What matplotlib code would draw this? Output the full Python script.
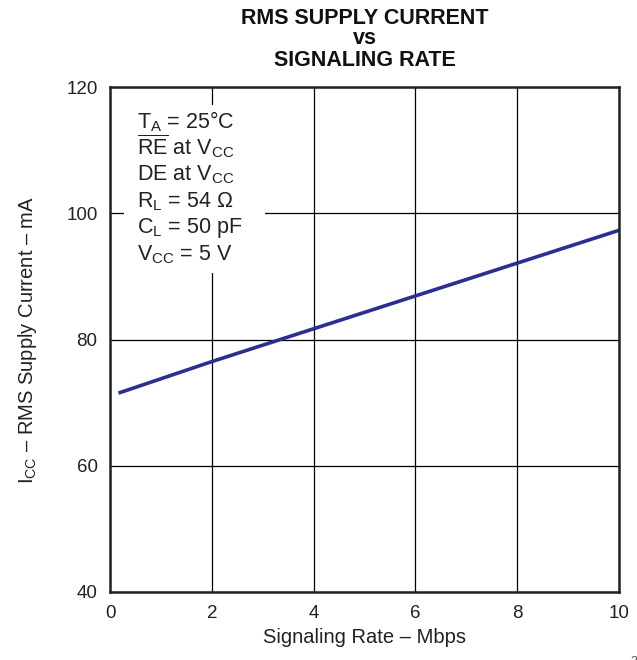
import matplotlib.pyplot as plt
from matplotlib.patches import Rectangle

plt.rcParams['font.family'] = ['Liberation Sans', 'DejaVu Sans']
plt.rcParams['mathtext.fontset'] = 'custom'
plt.rcParams['mathtext.rm'] = 'Liberation Sans'

rate = [0.2, 2, 4, 6, 8, 10]
icc = [71.6, 76.5, 81.7, 86.9, 92.1, 97.3]
xticks = [0, 2, 4, 6, 8, 10]
yticks = [40, 60, 80, 100, 120]
info_lines = ['T$_{\\mathrm{A}}$ = 25\u00b0C',
              '$\\overline{\\mathrm{RE}}$ at V$_{\\mathrm{CC}}$',
              'DE at V$_{\\mathrm{CC}}$',
              'R$_{\\mathrm{L}}$ = 54 \u03a9',
              'C$_{\\mathrm{L}}$ = 50 pF',
              'V$_{\\mathrm{CC}}$ = 5 V']
title_lines = ['RMS SUPPLY CURRENT', 'vs', 'SIGNALING RATE']

W, H = 637, 660
fig = plt.figure(figsize=(W/100, H/100), dpi=100)
ax = fig.add_axes([110/W, 1-592/H, 509/W, 505/H])

ax.plot(rate, icc, color='#2b2f8f', lw=2.6, zorder=3)

ax.set_xlim(0, 10)
ax.set_ylim(40, 120)
ax.set_xticks(xticks)
ax.set_yticks(yticks)
ax.grid(color='black', lw=0.9, zorder=1)
ax.tick_params(length=0, labelsize=13.5, pad=9, colors='#222222')
for s in ax.spines.values():
    s.set_linewidth(1.8)
    s.set_color('#222222')
    s.set_zorder(5)

ax.set_xlabel('Signaling Rate \u2013 Mbps', fontsize=14.5, color='#222222')
ax.xaxis.set_label_coords(0.5, -0.072)
ax.set_ylabel('I$_{\\mathrm{CC}}$ \u2013 RMS Supply Current \u2013 mA', fontsize=14.5,
              color='#222222')
ax.yaxis.set_label_coords(-0.14, 0.5)

# title, one line at a time (baselines in pixels from top)
for txt, base in zip(title_lines, [24, 44, 66]):
    fig.text(364.5/W, 1-base/H, txt, fontsize=15.5, fontweight='bold',
             ha='center', va='baseline', color='#111111')

# white box behind the conditions text, hides the grid
px = lambda p: (p-110)/509
py = lambda p: (592-p)/505
ax.add_patch(Rectangle((px(124), py(273)), px(265)-px(124), py(105)-py(273),
                       transform=ax.transAxes, facecolor='white',
                       edgecolor='none', zorder=2))
for txt, base in zip(info_lines, [128, 154, 180, 207, 233.5, 260]):
    ax.text(px(137), py(base), txt, transform=ax.transAxes, fontsize=15.5,
            ha='left', va='baseline', color='#222222', zorder=4)

fig.text(1.0, -0.012, '3', fontsize=9, color='#555555', ha='right', va='bottom')

fig.savefig('out.png', dpi=100)
